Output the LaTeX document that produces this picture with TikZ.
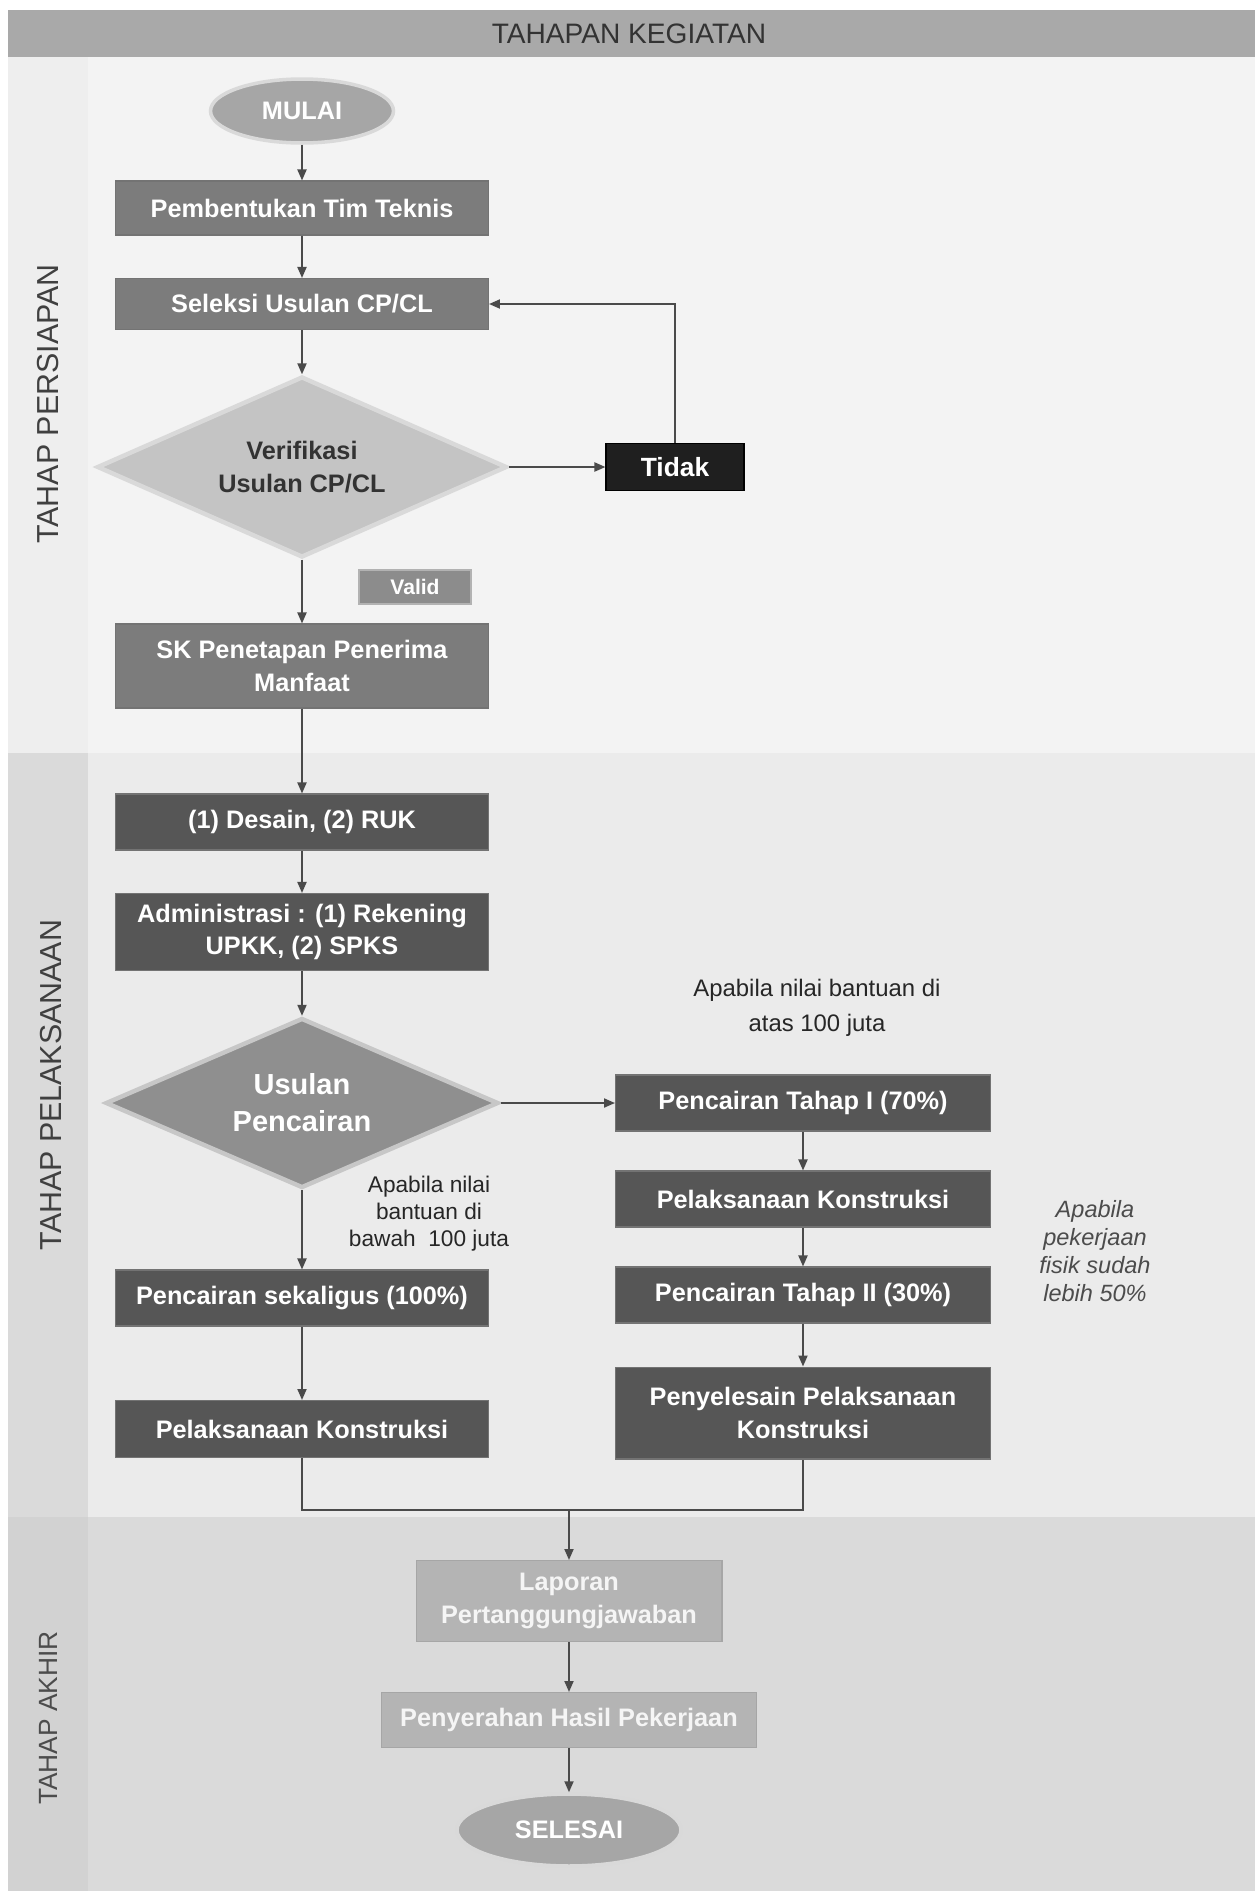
\documentclass[tikz,border=0pt]{standalone}
\usepackage{fontspec}
\setmainfont{Liberation Sans}
\usepackage{tikz}
\usetikzlibrary{arrows.meta, positioning, shapes.geometric}
\definecolor{barGray}{HTML}{A9A9A9}
\definecolor{prepBg}{HTML}{F3F3F3}
\definecolor{prepSide}{HTML}{EEEEEE}
\definecolor{execBg}{HTML}{EBEBEB}
\definecolor{execSide}{HTML}{DADADA}
\definecolor{endBg}{HTML}{DADADA}
\definecolor{endSide}{HTML}{D2D2D2}
\definecolor{prepBox}{HTML}{7C7C7C}
\definecolor{execBox}{HTML}{565656}
\definecolor{endBox}{HTML}{B4B4B4}
\definecolor{lineGray}{HTML}{4A4A4A}
\newcommand{\boxfont}{\bfseries\fontsize{14.4}{18.5}\selectfont}
\newcommand{\notefont}{\fontsize{13.6}{20}\selectfont}

\begin{document}
\begin{tikzpicture}[x=0.02cm, y=-0.02cm,
    flowbox/.style={rectangle, draw=black!55, line width=0.6pt, text=white,
        font=\boxfont, align=center, minimum width=7.46cm, minimum height=1.1cm, inner sep=2pt},
    prepbox/.style={flowbox, fill=prepBox},
    execbox/.style={flowbox, fill=execBox},
    endbox/.style={flowbox, fill=endBox, draw=black!35, text=white!96!black},
    terminal/.style={ellipse, fill=black!35, draw=black!15, line width=2pt, text=white,
        font=\boxfont, inner sep=0pt},
    decision/.style={diamond, shape aspect=2.3, inner sep=0pt, line width=2.5pt, align=center},
    flow/.style={draw=lineGray, line width=1.1pt, -{Triangle[length=2.2mm, width=1.8mm]}},
    sidelabel/.style={rotate=90, text=black!75, font=\fontsize{17.3}{20}\selectfont}]
    \useasboundingbox (0,0) rectangle (1255,1891);
    \fill[white] (0,0) rectangle (1255,1891);

    % Header bar
    \fill[barGray] (8,10) rectangle (1255,57);
    \node[text=black!80, font=\fontsize{16}{18}\selectfont] (title) at (629,34) {TAHAPAN KEGIATAN};

    % Stage backgrounds
    \fill[prepBg] (8,57) rectangle (1255,753);
    \fill[prepSide] (8,57) rectangle (88,753);
    \fill[execBg] (8,753) rectangle (1255,1517);
    \fill[execSide] (8,753) rectangle (88,1517);
    \fill[endBg] (8,1517) rectangle (1255,1891);
    \fill[endSide] (8,1517) rectangle (88,1891);

    \node[sidelabel] (persiapan) at (48,404) {TAHAP PERSIAPAN};
    \node[sidelabel] (pelaksanaan) at (51,1085) {TAHAP PELAKSANAAN};
    \node[sidelabel, font=\fontsize{15}{18}\selectfont, text=black!70] (akhir) at (48,1718) {TAHAP AKHIR};

    % Tahap persiapan
    \node[terminal, minimum width=3.66cm, minimum height=1.28cm] (mulai) at (302,111) {MULAI};
    \node[prepbox, minimum height=1.08cm] (timTeknis) at (302,208) {Pembentukan Tim Teknis};
    \node[prepbox, minimum height=1.02cm] (seleksi) at (302,304) {Seleksi Usulan CP/CL};
    \node[decision, fill=black!23, draw=white!85!black, text=black!80, font=\boxfont,
        minimum width=8.2cm, minimum height=3.62cm] (verifikasi) at (302,467) {Verifikasi\\Usulan CP/CL};
    \node[flowbox, fill=black!88, draw=black, minimum width=2.76cm, minimum height=0.94cm,
        font=\bfseries\fontsize{15}{18}\selectfont] (tidak) at (675,467) {Tidak};
    \node[flowbox, fill=black!45, draw=black!30, minimum width=2.24cm, minimum height=0.68cm,
        font=\bfseries\fontsize{12}{14}\selectfont] (valid) at (415,587) {Valid};
    \node[prepbox, minimum height=1.68cm] (skPenetapan) at (302,666) {SK Penetapan Penerima\\Manfaat};

    % Tahap pelaksanaan
    \node[execbox, minimum height=1.12cm] (desain) at (302,822) {(1) Desain, (2) RUK};
    \node[execbox, minimum height=1.54cm] (administrasi) at (302,932) {Administrasi : (1) Rekening\\UPKK, (2) SPKS};
    \node[decision, fill=black!44, draw=black!22, text=white,
        font=\bfseries\fontsize{16.5}{21}\selectfont,
        minimum width=7.86cm, minimum height=3.4cm] (usulan) at (302,1103) {Usulan\\Pencairan};
    \node[execbox, minimum width=7.5cm, minimum height=1.12cm] (tahapSatu) at (803,1103) {Pencairan Tahap I (70\%)};
    \node[execbox, minimum width=7.5cm, minimum height=1.12cm] (konstruksiB) at (803,1199) {Pelaksanaan Konstruksi};
    \node[execbox, minimum width=7.5cm, minimum height=1.12cm] (tahapDua) at (803,1295) {Pencairan Tahap II (30\%)};
    \node[execbox, minimum width=7.5cm, minimum height=1.84cm] (penyelesaian) at (803,1413) {Penyelesain Pelaksanaan\\Konstruksi};
    \node[execbox, minimum height=1.12cm] (sekaligus) at (302,1298) {Pencairan sekaligus (100\%)};
    \node[execbox, minimum height=1.14cm] (konstruksiA) at (302,1429) {Pelaksanaan Konstruksi};

    \node[align=center, text=black!85, font=\notefont] (diAtas) at (817,1008) {Apabila nilai bantuan di\\atas 100 juta};
    \node[align=center, text=black!85, font=\fontsize{12.9}{15.4}\selectfont] (diBawah) at (429,1214) {Apabila nilai\\bantuan di\\bawah \ 100 juta};
    \node[align=center, text=black!70, font=\itshape\fontsize{13.4}{16}\selectfont] (fisik) at (1095,1251) {Apabila\\pekerjaan\\fisik sudah\\lebih 50\%};

    % Tahap akhir
    \coordinate (gabung) at (569,1510);
    \node[endbox, minimum width=6.12cm, minimum height=1.62cm] (laporan) at (569,1601) {Laporan\\Pertanggungjawaban};
    \node[endbox, minimum width=7.5cm, minimum height=1.1cm] (penyerahan) at (569,1720) {Penyerahan Hasil Pekerjaan};
    \node[terminal, minimum width=4.48cm, minimum height=1.44cm] (selesai) at (569,1830) {SELESAI};

    % Connectors
    \draw[flow] (mulai) -- (timTeknis);
    \draw[flow] (timTeknis) -- (seleksi);
    \draw[flow] (seleksi) -- (verifikasi);
    \draw[flow] (verifikasi.east) -- (tidak.west);
    \draw[flow] (tidak.north) |- (seleksi.east);
    \draw[flow] (verifikasi.south) -- (skPenetapan.north);
    \draw[flow] (skPenetapan) -- (desain);
    \draw[flow] (desain) -- (administrasi);
    \draw[flow] (administrasi) -- (usulan.north);
    \draw[flow] (usulan.east) -- (tahapSatu.west);
    \draw[flow] (usulan.south) -- (sekaligus.north);
    \draw[flow] (sekaligus) -- (konstruksiA);
    \draw[flow] (tahapSatu) -- (konstruksiB);
    \draw[flow] (konstruksiB) -- (tahapDua);
    \draw[flow] (tahapDua) -- (penyelesaian);
    \draw[draw=lineGray, line width=1.1pt] (konstruksiA.south) |- (gabung) -| (penyelesaian.south);
    \draw[flow] (gabung) -- (laporan.north);
    \draw[flow] (laporan) -- (penyerahan);
    \draw[flow] (penyerahan) -- (selesai);
\end{tikzpicture}
\end{document}
